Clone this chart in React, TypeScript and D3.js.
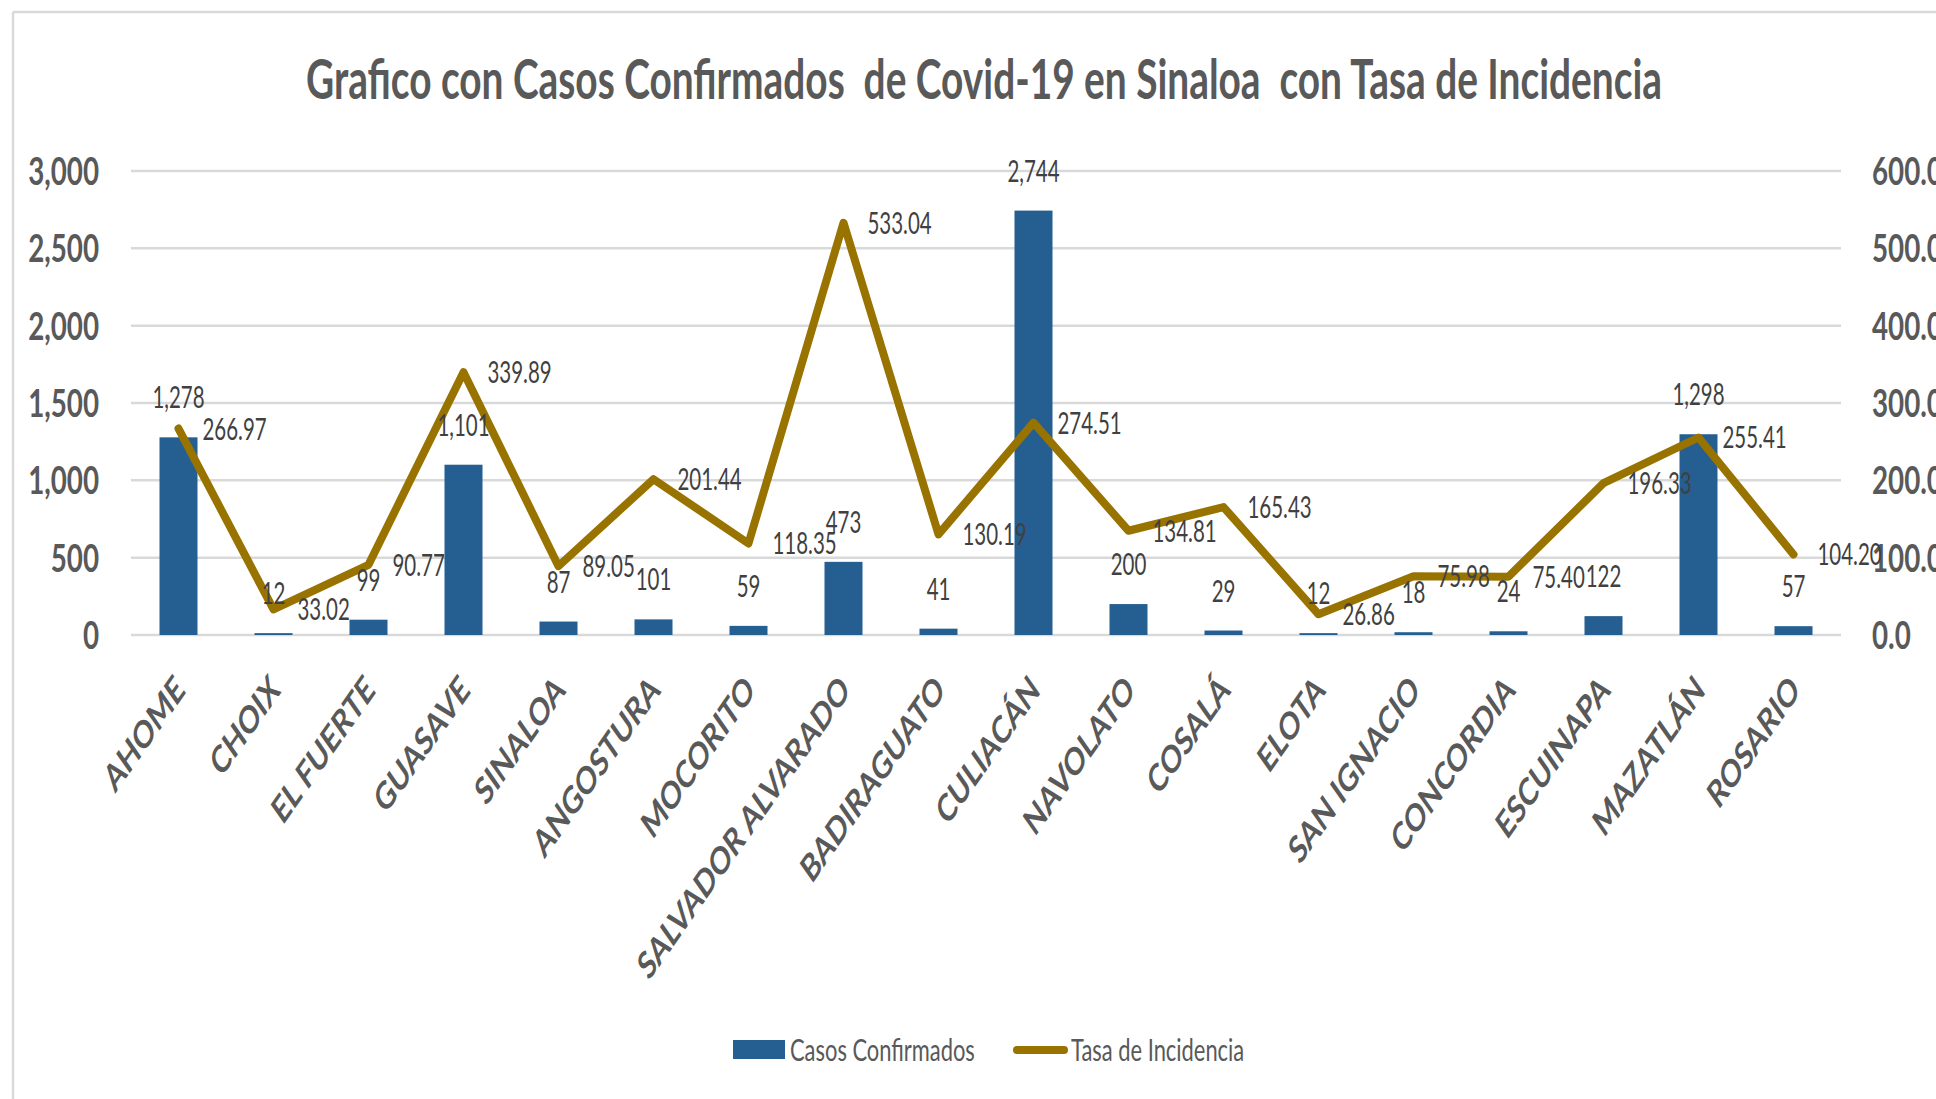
import React from "react";
import * as d3 from "d3";

const categories = [
  "AHOME", "CHOIX", "EL FUERTE", "GUASAVE", "SINALOA", "ANGOSTURA", "MOCORITO",
  "SALVADOR ALVARADO", "BADIRAGUATO", "CULIACÁN", "NAVOLATO", "COSALÁ", "ELOTA",
  "SAN IGNACIO", "CONCORDIA", "ESCUINAPA", "MAZATLÁN", "ROSARIO",
];
const casosConfirmados = [1278, 12, 99, 1101, 87, 101, 59, 473, 41, 2744, 200, 29, 12, 18, 24, 122, 1298, 57];
const tasaIncidencia = [266.97, 33.02, 90.77, 339.89, 89.05, 201.44, 118.35, 533.04, 130.19, 274.51, 134.81, 165.43, 26.86, 75.98, 75.40, 196.33, 255.41, 104.20];
const leftTicks = [0, 500, 1000, 1500, 2000, 2500, 3000];
const rightTicks = [0, 100, 200, 300, 400, 500, 600];

const TITLE = "Grafico con Casos Confirmados  de Covid-19 en Sinaloa  con Tasa de Incidencia";
const SERIES1 = "Casos Confirmados";
const SERIES2 = "Tasa de Incidencia";

const W = 1936;
const H = 1099;
const FONT = "Lato, 'Open Sans', sans-serif";
const BAR = "#255E91";
const LINE = "#997300";
const GRID = "#d9d9d9";
const AXIS_TXT = "#595959";
const LBL_TXT = "#404040";

const PL = 131, PR = 1841, PT = 171, PB = 635;

function SText({ x, y, sx = 0.7, rot = 0, children, ...rest }: any) {
  return (
    <text
      transform={`translate(${x},${y}) scale(${sx},1)${rot ? ` rotate(${rot})` : ""}`}
      {...rest}
    >
      {children}
    </text>
  );
}

export default function App() {
  const x = d3.scaleBand<string>().domain(categories).range([PL, PR]).paddingInner(0.6).paddingOuter(0.3);
  const yL = d3.scaleLinear().domain([0, 3000]).range([PB, PT]);
  const yR = d3.scaleLinear().domain([0, 600]).range([PB, PT]);
  const fmtL = d3.format(",");
  const fmtR = d3.format(".1f");
  const fmtRate = d3.format(".2f");
  const cx = (c: string) => (x(c) as number) + x.bandwidth() / 2;

  const line = d3
    .line<number>()
    .x((_, i) => cx(categories[i]))
    .y((d) => yR(d));

  return (
    <svg
      width={W}
      height={H}
      style={{ position: "absolute", left: 0, top: 0, background: "#fff" }}
      fontFamily={FONT}
    >
      <rect x={0} y={0} width={W} height={H} fill="#fff" />
      {/* chart border */}
      <line x1={13} y1={12} x2={W} y2={12} stroke={GRID} strokeWidth={2.5} />
      <line x1={13} y1={12} x2={13} y2={H} stroke={GRID} strokeWidth={2.5} />

      {/* title */}
      <text
        x={306}
        y={99}
        fontSize={56}
        fontWeight="bold"
        fill={AXIS_TXT}
        textLength={1356}
        lengthAdjust="spacingAndGlyphs"
        style={{ whiteSpace: "pre" }}
      >
        {TITLE}
      </text>

      {/* gridlines */}
      {leftTicks.map((t) => (
        <line key={t} x1={PL} x2={PR} y1={yL(t)} y2={yL(t)} stroke={GRID} strokeWidth={2.5} />
      ))}

      {/* left axis labels */}
      {leftTicks.map((t) => (
        <SText key={t} x={99} y={yL(t) + 14} sx={0.73} textAnchor="end" fontSize={38} fontWeight="bold" fill={AXIS_TXT}>
          {fmtL(t)}
        </SText>
      ))}
      {/* right axis labels */}
      {rightTicks.map((t) => (
        <SText key={t} x={1872} y={yR(t) + 14} sx={0.73} textAnchor="start" fontSize={38} fontWeight="bold" fill={AXIS_TXT}>
          {fmtR(t)}
        </SText>
      ))}

      {/* bars */}
      {categories.map((c, i) => (
        <rect
          key={c}
          x={x(c)}
          y={yL(casosConfirmados[i])}
          width={x.bandwidth()}
          height={PB - yL(casosConfirmados[i])}
          fill={BAR}
        />
      ))}

      {/* line */}
      <path d={line(tasaIncidencia) || ""} fill="none" stroke={LINE} strokeWidth={8} strokeLinejoin="round" strokeLinecap="round" />

      {/* bar labels */}
      {categories.map((c, i) => (
        <SText key={c} x={cx(c)} y={yL(casosConfirmados[i]) - 29} sx={0.66} textAnchor="middle" fontSize={31} fill={LBL_TXT}>
          {fmtL(casosConfirmados[i])}
        </SText>
      ))}
      {/* line labels */}
      {categories.map((c, i) => (
        <SText key={c} x={cx(c) + 24} y={yR(tasaIncidencia[i]) + 11} sx={0.66} textAnchor="start" fontSize={31} fill={LBL_TXT}>
          {fmtRate(tasaIncidencia[i])}
        </SText>
      ))}

      {/* category labels */}
      {categories.map((c) => (
        <SText key={c} x={cx(c) + 8} y={692} sx={0.7} rot={-45} textAnchor="end" fontSize={38} fontWeight="bold" fill={AXIS_TXT}>
          {c}
        </SText>
      ))}

      {/* legend */}
      <rect x={733} y={1040} width={52} height={19} fill={BAR} />
      <SText x={790} y={1061} sx={0.73} fontSize={30} fill={AXIS_TXT}>{SERIES1}</SText>
      <line x1={1017} x2={1064} y1={1050} y2={1050} stroke={LINE} strokeWidth={8} strokeLinecap="round" />
      <SText x={1071} y={1061} sx={0.73} fontSize={30} fill={AXIS_TXT}>{SERIES2}</SText>
    </svg>
  );
}
